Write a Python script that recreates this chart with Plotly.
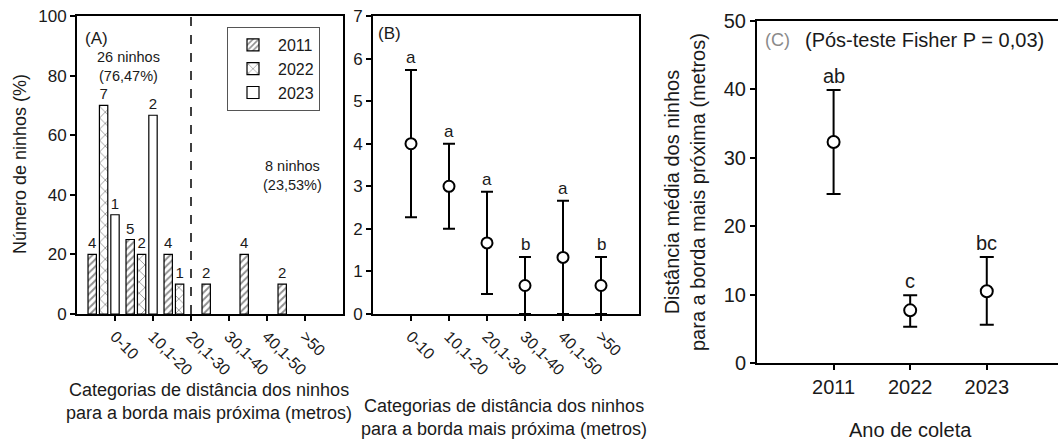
import plotly.graph_objects as go

# ---------------- data ----------------
categories = ["0-10", "10,1-20", "20,1-30", "30,1-40", "40,1-50", ">50"]
years = ["2011", "2022", "2023"]

# Panel A: percentage of nests per distance category (and counts)
pct_2011 = [20, 25, 20, 10, 20, 10]
pct_2022 = [70, 20, 10, None, None, None]
pct_2023 = [33.3, 66.7, None, None, None, None]
n_2011 = [4, 5, 4, 2, 4, 2]
n_2022 = [7, 2, 1, None, None, None]
n_2023 = [1, 2, None, None, None, None]

# Panel B: mean number of nests per category
b_mean = [4.0, 3.0, 1.67, 0.67, 1.33, 0.67]
b_err_up = [1.73, 1.0, 1.2, 0.67, 1.33, 0.67]
b_err_down = [1.73, 1.0, 1.2, 0.67, 1.33, 0.67]
b_letters = ["a", "a", "a", "b", "a", "b"]

# Panel C: mean distance to nearest edge per year
c_years = ["2011", "2022", "2023"]
c_mean = [32.3, 7.7, 10.5]
c_err_up = [7.6, 2.2, 5.0]
c_err_down = [7.6, 2.4, 4.9]
c_letters = ["ab", "c", "bc"]

# ---------------- styling ----------------
W, H = 1058, 444
FONT = "Liberation Sans, Arial, sans-serif"
TXT = "#1a1a1a"


def px(x):
    return x / W


def py(y):
    return 1 - y / H


fig = go.Figure()

cat_pos = [i + 1 for i in range(len(categories))]
bar_w = 0.22
bar_offsets = [-0.6, -0.3, 0.0]
patterns = [
    dict(shape="/", fgcolor="#222222", bgcolor="white", size=5, solidity=0.4),
    dict(shape="x", fgcolor="#222222", bgcolor="white", size=8, solidity=0.2),
    dict(shape="", bgcolor="white"),
]
pcts = [pct_2011, pct_2022, pct_2023]
counts = [n_2011, n_2022, n_2023]

for k, yr in enumerate(years):
    fig.add_trace(go.Bar(
        x=cat_pos, y=pcts[k], name=yr,
        offset=bar_offsets[k] - bar_w / 2, width=bar_w,
        marker=dict(color="white", line=dict(color="black", width=1.2),
                    pattern=patterns[k]),
        text=[str(n) if n is not None else "" for n in counts[k]],
        textposition="outside", cliponaxis=False,
        textfont=dict(size=15, color=TXT, family=FONT),
        xaxis="x", yaxis="y",
    ))

# Panel B
fig.add_trace(go.Scatter(
    x=cat_pos, y=b_mean, mode="markers", showlegend=False,
    marker=dict(symbol="circle", size=11, color="white",
                line=dict(color="black", width=2)),
    error_y=dict(type="data", symmetric=False, array=b_err_up,
                 arrayminus=b_err_down, thickness=2, width=6, color="black"),
    xaxis="x2", yaxis="y2", cliponaxis=False,
))

# Panel C
c_pos = [i + 1 for i in range(len(c_years))]
fig.add_trace(go.Scatter(
    x=c_pos, y=c_mean, mode="markers", showlegend=False,
    marker=dict(symbol="circle", size=12, color="white",
                line=dict(color="black", width=2)),
    error_y=dict(type="data", symmetric=False, array=c_err_up,
                 arrayminus=c_err_down, thickness=2, width=7, color="black"),
    xaxis="x3", yaxis="y3", cliponaxis=False,
))

axis_common = dict(showline=True, linecolor="black", linewidth=2,
                   ticks="outside", ticklen=5, tickwidth=1.5, tickcolor="black",
                   showgrid=False, zeroline=False, automargin=False,
                   tickfont=dict(family=FONT, size=17, color=TXT))

ann = []
# letters panel B
for i, l in enumerate(b_letters):
    ann.append(dict(x=cat_pos[i], y=b_mean[i] + b_err_up[i], xref="x2", yref="y2",
                    text=l, showarrow=False, xanchor="center", yanchor="bottom",
                    yshift=1, font=dict(size=17, family=FONT, color=TXT)))
# letters panel C
for i, l in enumerate(c_letters):
    ann.append(dict(x=c_pos[i], y=c_mean[i] + c_err_up[i], xref="x3", yref="y3",
                    text=l, showarrow=False, xanchor="center", yanchor="bottom",
                    yshift=1, font=dict(size=20, family=FONT, color=TXT)))


def note(x, y, text, size, color=TXT, xanchor="center", angle=0):
    return dict(x=px(x), y=py(y), xref="paper", yref="paper", text=text,
                showarrow=False, xanchor=xanchor, yanchor="middle",
                textangle=angle, font=dict(size=size, family=FONT, color=color))


ann += [
    note(96, 38, "(A)", 17),
    note(128, 66, "26 ninhos<br>(76,47%)", 14.5),
    note(292, 175, "8 ninhos<br>(23,53%)", 14.5),
    note(389, 33, "(B)", 17),
    note(763, 40, "(C)", 18, color="#8a8a8a", xanchor="left"),
    note(803, 40, "(Pós-teste Fisher P = 0,03)", 20, xanchor="left"),
    note(209, 401, "Categorias de distância dos ninhos<br>para a borda mais próxima (metros)", 18),
    note(504, 417, "Categorias de distância dos ninhos<br>para a borda mais próxima (metros)", 18),
    note(20, 164, "Número de ninhos (%)", 18, angle=-90),
    note(685, 192, "Distância média dos ninhos<br>para a borda mais próxima (metros)", 20, angle=-90),
    note(910, 430, "Ano de coleta", 20),
]

fig.update_layout(
    width=W, height=H,
    margin=dict(l=0, r=0, t=0, b=0, pad=0, autoexpand=False),
    paper_bgcolor="white", plot_bgcolor="white",
    font=dict(family=FONT, color=TXT),
    barmode="overlay",
    showlegend=True,
    legend=dict(x=px(227), y=py(27), xanchor="left", yanchor="top",
                bordercolor="#555555", borderwidth=1, bgcolor="white",
                font=dict(size=16, family=FONT, color=TXT),
                itemwidth=40, tracegroupgap=0),
    xaxis=dict(domain=[px(77), px(343)], range=[0, 7], tickvals=cat_pos,
               ticktext=categories, tickangle=45, mirror=True, anchor="y",
               **{**axis_common, "tickfont": dict(family=FONT, size=16, color=TXT)}),
    yaxis=dict(domain=[py(314), py(16)], range=[0, 100], dtick=20, mirror=True,
               anchor="x", **axis_common),
    xaxis2=dict(domain=[px(373), px(639)], range=[0, 7], tickvals=cat_pos,
                ticktext=categories, tickangle=45, mirror=True, anchor="y2",
                **{**axis_common, "tickfont": dict(family=FONT, size=16, color=TXT)}),
    yaxis2=dict(domain=[py(314), py(16)], range=[0, 7], dtick=1, mirror=True,
                anchor="x2", **axis_common),
    xaxis3=dict(domain=[px(757), 1.0], range=[0, 3.93], tickvals=c_pos,
                ticktext=c_years, mirror=True, anchor="y3",
                **{**axis_common, "tickfont": dict(family=FONT, size=20, color=TXT)}),
    yaxis3=dict(domain=[py(363), py(21)], range=[0, 50], dtick=10, mirror=False,
                anchor="x3",
                **{**axis_common, "tickfont": dict(family=FONT, size=20, color=TXT)}),
    annotations=ann,
    shapes=[dict(type="line", xref="x", yref="y domain", x0=3, x1=3, y0=0, y1=1,
                 line=dict(color="black", width=1.5, dash="dash"))],
)

fig.write_html(
    "out.html",
    config={"displayModeBar": False},
    post_script="document.body.style.margin='0';document.body.style.overflow='hidden';",
)
